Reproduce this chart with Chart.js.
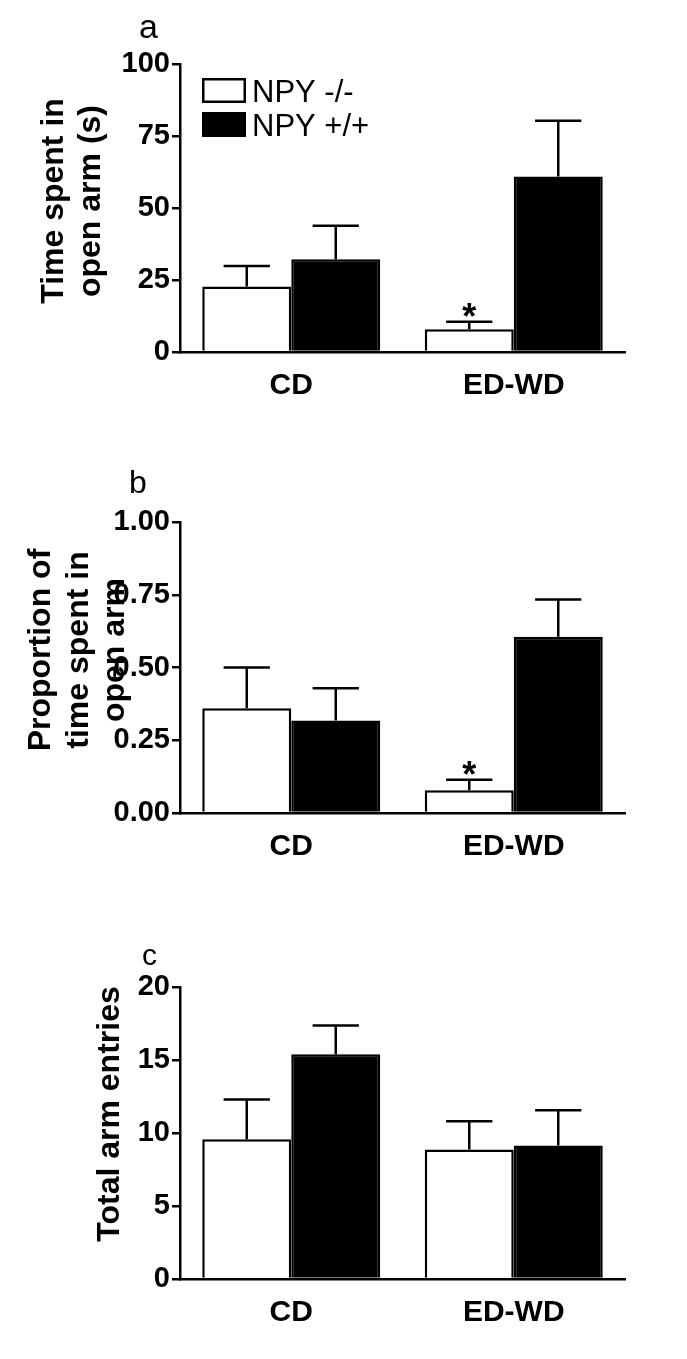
<!DOCTYPE html>
<html>
<head>
<meta charset="utf-8">
<script src="https://cdn.jsdelivr.net/npm/chart.js@4.4.1/dist/chart.umd.min.js"></script>
<style>
  body { margin: 0; background: #fff; }
  #wrap { position: relative; width: 687px; height: 1359px; background: #fff; }
  canvas { position: absolute; left: 0; }
</style>
</head>
<body>
<div id="wrap">
  <canvas id="chartA" width="687" height="450" style="top:0px"></canvas>
  <canvas id="chartB" width="687" height="470" style="top:450px"></canvas>
  <canvas id="chartC" width="687" height="439" style="top:920px"></canvas>
</div>
<script>
const groups = ["CD", "ED-WD"];
const seriesNames = ["NPY -/-", "NPY +/+"];

// a - time spent in open arm (s)
const timeKO = [22.7, 7.9];
const timeKOErr = [29.9, 10.5];
const timeWT = [32.2, 60.9];
const timeWTErr = [43.8, 80.3];
const timeStars = ["", "*"];
const timeTicks = [0, 25, 50, 75, 100];
const timeTickLabels = ["0", "25", "50", "75", "100"];

// b - proportion of time in open arm
const propKO = [0.36, 0.078];
const propKOErr = [0.50, 0.114];
const propWT = [0.318, 0.606];
const propWTErr = [0.429, 0.734];
const propStars = ["", "*"];
const propTicks = [0, 0.25, 0.5, 0.75, 1];
const propTickLabels = ["0.00", "0.25", "0.50", "0.75", "1.00"];

// c - total arm entries
const entriesKO = [9.58, 8.87];
const entriesKOErr = [12.3, 10.81];
const entriesWT = [15.4, 9.15];
const entriesWTErr = [17.36, 11.56];
const entriesStars = ["", ""];
const entriesTicks = [0, 5, 10, 15, 20];
const entriesTickLabels = ["0", "5", "10", "15", "20"];

const FONT = "'Liberation Sans', Arial, Helvetica, sans-serif";
const LW = 2.5;

// draws error bars, stars, axis title, panel letter and legend
const panelDecor = {
  id: "panelDecor",
  afterDatasetsDraw(chart, args, o) {
    const ctx = chart.ctx;
    const y = chart.scales.y;
    ctx.save();
    ctx.strokeStyle = "#000";
    ctx.fillStyle = "#000";
    ctx.lineWidth = LW;
    chart.data.datasets.forEach((ds, i) => {
      chart.getDatasetMeta(i).data.forEach((el, j) => {
        const top = y.getPixelForValue(ds.err[j]);
        const half = el.width * 0.26;
        ctx.beginPath();
        ctx.moveTo(el.x, el.y);
        ctx.lineTo(el.x, top);
        ctx.moveTo(el.x - half, top);
        ctx.lineTo(el.x + half, top);
        ctx.stroke();
        if (ds.stars && ds.stars[j]) {
          ctx.font = "bold 36px " + FONT;
          ctx.textAlign = "center";
          ctx.textBaseline = "alphabetic";
          ctx.fillText(ds.stars[j], el.x, top + 7);
        }
      });
    });

    // panel letter
    ctx.font = o.letterSize + "px " + FONT;
    ctx.textAlign = "left";
    ctx.textBaseline = "alphabetic";
    ctx.fillText(o.letter, o.letterX, o.letterY);

    // y title
    ctx.font = "bold 32px " + FONT;
    o.title.forEach((line, k) => {
      ctx.save();
      ctx.translate(o.titleX[k], o.titleY);
      ctx.rotate(-Math.PI / 2);
      ctx.textAlign = "center";
      ctx.fillText(line, 0, 0);
      ctx.restore();
    });

    // legend
    if (o.legend) {
      chart.data.datasets.forEach((ds, i) => {
        const by = 78 + i * 34;
        ctx.fillStyle = ds.backgroundColor;
        ctx.fillRect(202, by, 44, 25);
        ctx.strokeRect(202 + LW / 2, by + LW / 2, 44 - LW, 25 - LW);
        ctx.fillStyle = "#000";
        ctx.font = "31px " + FONT;
        ctx.textAlign = "left";
        ctx.fillText(ds.label, 252, by + 24);
      });
    }
    ctx.restore();
  }
};

function makePanel(id, p) {
  return new Chart(document.getElementById(id), {
    type: "bar",
    data: {
      labels: groups,
      datasets: [
        { label: seriesNames[0], data: p.ko, err: p.koErr, stars: p.stars,
          backgroundColor: "#fff", borderColor: "#000", borderWidth: LW },
        { label: seriesNames[1], data: p.wt, err: p.wtErr,
          backgroundColor: "#000", borderColor: "#000", borderWidth: LW }
      ]
    },
    options: {
      responsive: false,
      animation: false,
      datasets: { bar: { barPercentage: 1, categoryPercentage: 0.8 } },
      layout: { padding: { top: p.top, right: 62, left: 0, bottom: 0 } },
      plugins: {
        legend: { display: false },
        tooltip: { enabled: false },
        panelDecor: p.decor
      },
      scales: {
        x: {
          grid: { display: false, drawTicks: false },
          border: { display: true, color: "#000", width: LW },
          ticks: { color: "#000", padding: 16, font: { family: FONT, size: 30, weight: "bold" } },
          afterFit: (s) => { s.height = p.xH; }
        },
        y: {
          min: p.ticks[0],
          max: p.ticks[p.ticks.length - 1],
          afterBuildTicks: (s) => { s.ticks = p.ticks.map((v) => ({ value: v })); },
          grid: { drawOnChartArea: false, drawTicks: true, tickLength: 8, color: "#000", lineWidth: LW },
          border: { display: true, color: "#000", width: LW },
          ticks: {
            color: "#000", padding: 2,
            font: { family: FONT, size: 29, weight: "bold" },
            callback: (v, i) => p.tickLabels[i]
          },
          afterFit: (s) => { s.width = 180; }
        }
      }
    },
    plugins: [panelDecor]
  });
}

makePanel("chartA", {
  ko: timeKO, koErr: timeKOErr, wt: timeWT, wtErr: timeWTErr, stars: timeStars,
  ticks: timeTicks, tickLabels: timeTickLabels, top: 64, xH: 98,
  decor: { letter: "a", letterSize: 34, letterX: 139, letterY: 38,
    title: ["Time spent in", "open arm (s)"], titleX: [63, 100], titleY: 201, legend: true }
});

makePanel("chartB", {
  ko: propKO, koErr: propKOErr, wt: propWT, wtErr: propWTErr, stars: propStars,
  ticks: propTicks, tickLabels: propTickLabels, top: 72, xH: 107,
  decor: { letter: "b", letterSize: 32, letterX: 129, letterY: 43,
    title: ["Proportion of", "time spent in", "open arm"], titleX: [50, 88, 124], titleY: 200, legend: false }
});

makePanel("chartC", {
  ko: entriesKO, koErr: entriesKOErr, wt: entriesWT, wtErr: entriesWTErr, stars: entriesStars,
  ticks: entriesTicks, tickLabels: entriesTickLabels, top: 67, xH: 80,
  decor: { letter: "c", letterSize: 30, letterX: 142, letterY: 45,
    title: ["Total arm entries"], titleX: [119], titleY: 194, legend: false }
});
</script>
</body>
</html>
